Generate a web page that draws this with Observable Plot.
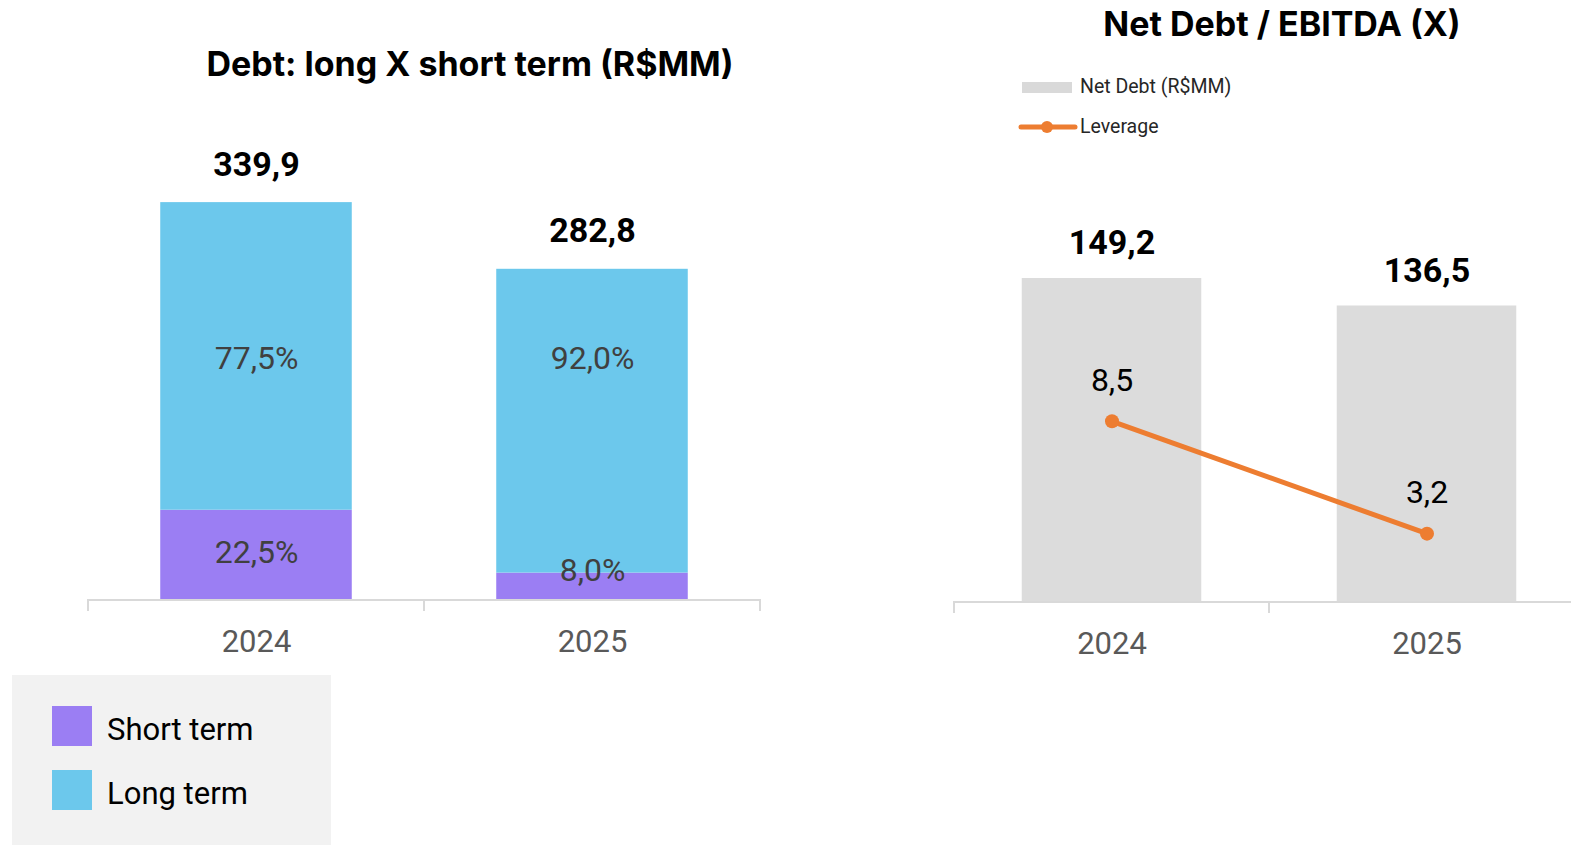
<!DOCTYPE html>
<html><head><meta charset="utf-8">
<script src="https://cdn.jsdelivr.net/npm/d3@7"></script>
<script src="https://cdn.jsdelivr.net/npm/@observablehq/plot@0.6"></script>
<style>
html,body{margin:0;padding:0;background:#fff;width:1571px;height:845px;overflow:hidden;font-family:Roboto,"Noto Sans",sans-serif;}
#page{position:relative;width:1571px;height:845px;overflow:hidden;}
.abs{position:absolute;}
.title{font-family:Inter,Roboto,sans-serif;font-weight:700;font-size:34px;color:#000;white-space:nowrap;letter-spacing:0px;line-height:1;transform:translate(-50%,-50%);}
.lg{white-space:nowrap;line-height:1;transform:translateY(-50%);}
</style></head><body><div id="page">
  <div class="abs title" style="left:470px;top:64px">Debt: long X short term (R$MM)</div>
  <div class="abs title" style="left:1282px;top:24px">Net Debt / EBITDA (X)</div>
  <div class="abs" style="left:12px;top:675px;width:319px;height:170px;background:#f2f2f2"></div>
  <div class="abs" id="sw0" style="left:52px;top:706px;width:40px;height:40px"></div>
  <div class="abs lg" id="lg0" style="left:107px;top:729px;font-size:31px;color:#000"></div>
  <div class="abs" id="sw1" style="left:52px;top:770px;width:40px;height:40px"></div>
  <div class="abs lg" id="lg1" style="left:107px;top:793px;font-size:31px;color:#000"></div>
  <div class="abs" id="rsw0" style="left:1022px;top:82px;width:50px;height:11px"></div>
  <div class="abs lg" id="rlg0" style="left:1080px;top:87px;font-size:19.5px;color:#262626"></div>
  <svg class="abs" id="rsw1" style="left:1018px;top:119px" width="60" height="16"><line x1="3" x2="57" y1="8" y2="8" stroke-width="5" stroke-linecap="round"/><circle cx="29" cy="8" r="6"/></svg>
  <div class="abs lg" id="rlg1" style="left:1080px;top:127px;font-size:19.5px;color:#262626"></div>
</div>
<script>
// ---- data ----
const years = ["2024", "2025"];
const totalDebt = [339.9, 282.8];
const shortPct = [22.5, 8.0];
const longPct = [77.5, 92.0];
const terms = ["Short term", "Long term"];
const termColors = ["#9b7ef3", "#6cc8ec"];
const netDebt = [149.2, 136.5];
const leverage = [8.5, 3.2];
const rightLegend = ["Net Debt (R$MM)", "Leverage"];
const netDebtColor = "#dcdcdc";
const leverageColor = "#ed7d31";

const fmt = v => v.toFixed(1).replace(".", ",");

// legends
document.getElementById("sw0").style.background = termColors[0];
document.getElementById("sw1").style.background = termColors[1];
document.getElementById("lg0").textContent = terms[0];
document.getElementById("lg1").textContent = terms[1];
document.getElementById("rsw0").style.background = "#d9d9d9";
document.getElementById("rlg0").textContent = rightLegend[0];
document.getElementById("rlg1").textContent = rightLegend[1];
document.querySelector("#rsw1 line").setAttribute("stroke", leverageColor);
document.querySelector("#rsw1 circle").setAttribute("fill", leverageColor);

// axis with boundary ticks drawn from the band scale
function bandAxisLine(cats, extendRight) {
  return (index, scales, values, dims) => {
    const x = scales.x, y = scales.y;
    const step = x.step(), bw = x.bandwidth();
    const gap = (step - bw) / 2;
    const y0 = y(0);
    const bounds = cats.map(c => x(c) - gap);
    bounds.push(x(cats[cats.length - 1]) + bw + gap);
    const g = d3.create("svg:g").attr("stroke", "#d9d9d9").attr("stroke-width", 2);
    g.append("line").attr("x1", bounds[0]).attr("x2", extendRight ? dims.width : bounds[bounds.length - 1]).attr("y1", y0 + 1).attr("y2", y0 + 1);
    for (const b of bounds) g.append("line").attr("x1", b).attr("x2", b).attr("y1", y0).attr("y2", y0 + 12);
    return g.node();
  };
}

// ---- left chart ----
const debtRows = years.flatMap((yr, i) => [
  {year: yr, term: terms[0], value: totalDebt[i] * shortPct[i] / 100, pct: shortPct[i]},
  {year: yr, term: terms[1], value: totalDebt[i] * longPct[i] / 100, pct: longPct[i]}
]);
const shortRows = debtRows.filter(d => d.term === terms[0]);
const longRows = debtRows.filter(d => d.term === terms[1]);
const sharedLongMid = (shortRows[0].value + totalDebt[0]) / 2;
const totals = years.map((yr, i) => ({year: yr, total: totalDebt[i]}));

const left = Plot.plot({
  width: 780, height: 660,
  marginLeft: 88, marginRight: 20, marginTop: 0, marginBottom: 61,
  x: {domain: years, paddingInner: 0.43, paddingOuter: 0.215, round: false, label: null},
  y: {domain: [0, 513], axis: null},
  color: {domain: terms, range: termColors},
  style: {fontFamily: "Roboto, sans-serif", overflow: "visible", background: "transparent"},
  marks: [
    Plot.barY(debtRows, {x: "year", y: "value", fill: "term"}),
    bandAxisLine(years, false),
    Plot.axisX({tickSize: 0, tickPadding: 30, fontSize: 31, color: "#595959", label: null}),
    Plot.text(totals, {x: "year", y: "total", text: d => fmt(d.total), dy: -38, fontSize: 34, fontWeight: 700, fill: "#000", lineAnchor: "middle"}),
    Plot.text(longRows, {x: "year", y: () => sharedLongMid, text: d => fmt(d.pct) + "%", fontSize: 32, fill: "#404040", lineAnchor: "middle", dy: 2}),
    Plot.text(shortRows, {x: "year", y: d => d.pct < 10 ? d.value : d.value / 2, text: d => fmt(d.pct) + "%", fontSize: 32, fill: "#404040", lineAnchor: "middle", dy: -2})
  ]
});
left.style.position = "absolute"; left.style.left = "0px"; left.style.top = "0px";
document.getElementById("page").appendChild(left);

// ---- right chart ----
const ndRows = years.map((yr, i) => ({year: yr, nd: netDebt[i], lev: leverage[i]}));
const rightX = {domain: years, paddingInner: 0.43, paddingOuter: 0.215, round: false, label: null};
const right = Plot.plot({
  width: 700, height: 665,
  marginLeft: 52, marginRight: 18, marginTop: 0, marginBottom: 64,
  x: rightX,
  y: {domain: [0, 277.6], axis: null},
  style: {fontFamily: "Roboto, sans-serif", overflow: "visible", background: "transparent"},
  marks: [
    Plot.barY(ndRows, {x: "year", y: "nd", fill: netDebtColor}),
    bandAxisLine(years, true),
    Plot.axisX({tickSize: 0, tickPadding: 30, fontSize: 31, color: "#595959", label: null}),
    Plot.text(ndRows, {x: "year", y: "nd", text: d => fmt(d.nd), dy: -35, fontSize: 34, fontWeight: 700, fill: "#000", lineAnchor: "middle"})
  ]
});
right.style.position = "absolute"; right.style.left = "902px"; right.style.top = "0px";
document.getElementById("page").appendChild(right);

const rightLine = Plot.plot({
  width: 700, height: 665,
  marginLeft: 52, marginRight: 18, marginTop: 0, marginBottom: 64,
  x: {...rightX, axis: null},
  y: {domain: [0, 28.35], axis: null},
  style: {fontFamily: "Roboto, sans-serif", overflow: "visible", background: "transparent"},
  marks: [
    Plot.line(ndRows, {x: "year", y: "lev", stroke: leverageColor, strokeWidth: 5}),
    Plot.dot(ndRows, {x: "year", y: "lev", r: 7, fill: leverageColor}),
    Plot.text(ndRows, {x: "year", y: "lev", text: d => fmt(d.lev), dy: -41, fontSize: 32, fill: "#000", lineAnchor: "middle"})
  ]
});
rightLine.style.position = "absolute"; rightLine.style.left = "902px"; rightLine.style.top = "0px";
document.getElementById("page").appendChild(rightLine);
</script>
</body></html>
